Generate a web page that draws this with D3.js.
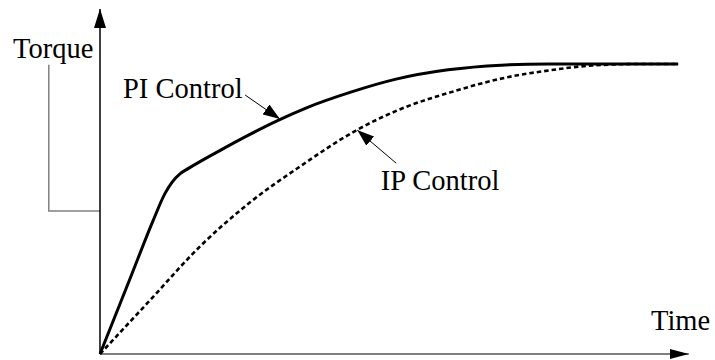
<!DOCTYPE html>
<html>
<head>
<meta charset="utf-8">
<script src="https://cdn.jsdelivr.net/npm/d3@7"></script>
<style>
  html, body { margin: 0; padding: 0; background: #fff; }
  svg { display: block; }
  text { font-family: "Liberation Serif", "Times New Roman", serif; font-size: 28.5px; fill: #000; }
</style>
</head>
<body>
<svg id="chart" width="715" height="360"></svg>
<script>
// ---- data ----
const piTime   = [0, 0.5, 0.9, 1.1, 1.22, 1.36, 1.5, 2.0, 2.5, 3.0, 3.5, 4.25, 5.0, 5.9, 6.8, 7.6, 9.8];
const piTorque = [0, 0.255, 0.46, 0.553, 0.592, 0.622, 0.64, 0.698, 0.753, 0.804, 0.849, 0.903, 0.947, 0.98, 0.996, 1.0, 1.0];
const ipTime   = [0, 0.85, 1.7, 2.55, 3.4, 4.35, 5.1, 5.95, 6.85, 7.65, 8.35, 9.15, 9.8];
const ipTorque = [0, 0.186, 0.372, 0.524, 0.648, 0.772, 0.845, 0.903, 0.952, 0.979, 0.995, 1.0, 1.0];
const seriesLabels = ["PI Control", "IP Control"];
const axisLabels = ["Torque", "Time"];
// annotation anchors in data units: [labelT, labelV, tailT, tailV, tipT, tipV]
const piNote = [0.39, 0.884, 2.46, 0.893, 3.05, 0.81];
const ipNote = [4.76, 0.566, 5.02, 0.658, 4.36, 0.772];
const bracketLevel = 0.493;
const timeMax = 9.98, torqueMax = 1.19;

// ---- scales ----
const x = d3.scaleLinear().domain([0, 10]).range([100, 690]);
const y = d3.scaleLinear().domain([0, 1]).range([354, 64]);

const svg = d3.select("#chart");
const defs = svg.append("defs");
function marker(id, len, wid) {
  defs.append("marker").attr("id", id)
    .attr("viewBox", `0 ${-wid/2} ${len} ${wid}`)
    .attr("refX", len).attr("refY", 0)
    .attr("markerUnits", "userSpaceOnUse")
    .attr("markerWidth", len).attr("markerHeight", wid)
    .attr("orient", "auto")
    .append("path").attr("d", `M0,${-wid/2}L${len},0L0,${wid/2}Z`).attr("fill", "#000");
}
marker("axArrowY", 19, 12);
marker("axArrowX", 19, 10);
marker("noteArrow", 17, 12);

// bracket (gray)
svg.append("path")
  .attr("d", `M${x(-0.868)},${y(0.997)}V${y(bracketLevel)}H${x(0)}`)
  .attr("fill", "none").attr("stroke", "#808080").attr("stroke-width", 1.5);

// axes
svg.append("line")
  .attr("x1", x(0)).attr("y1", y(0)).attr("x2", x(timeMax)).attr("y2", y(0))
  .attr("stroke", "#555").attr("stroke-width", 1.5).attr("marker-end", "url(#axArrowX)");
svg.append("line")
  .attr("x1", x(0)).attr("y1", y(0)).attr("x2", x(0)).attr("y2", y(torqueMax))
  .attr("stroke", "#000").attr("stroke-width", 1.5).attr("marker-end", "url(#axArrowY)");

// curves
const line = d3.line().x(d => x(d[0])).y(d => y(d[1])).curve(d3.curveMonotoneX);
const piData = piTime.map((t, i) => [t, piTorque[i]]);
const ipData = ipTime.map((t, i) => [t, ipTorque[i]]);

svg.append("path").datum(ipData).attr("d", line)
  .attr("fill", "none").attr("stroke", "#000").attr("stroke-width", 2.6)
  .attr("stroke-dasharray", "4.5,3");
svg.append("path").datum(piData).attr("d", line)
  .attr("fill", "none").attr("stroke", "#000").attr("stroke-width", 3);

// annotations
[piNote, ipNote].forEach((n, i) => {
  svg.append("line")
    .attr("x1", x(n[2])).attr("y1", y(n[3])).attr("x2", x(n[4])).attr("y2", y(n[5]))
    .attr("stroke", "#000").attr("stroke-width", 1).attr("marker-end", "url(#noteArrow)");
  svg.append("text").attr("x", x(n[0])).attr("y", y(n[1])).text(seriesLabels[i]);
});

// axis labels
svg.append("text").attr("x", x(-1.473)).attr("y", y(1.021)).text(axisLabels[0]);
svg.append("text").attr("x", x(9.34)).attr("y", y(0.083)).text(axisLabels[1]);
</script>
</body>
</html>
